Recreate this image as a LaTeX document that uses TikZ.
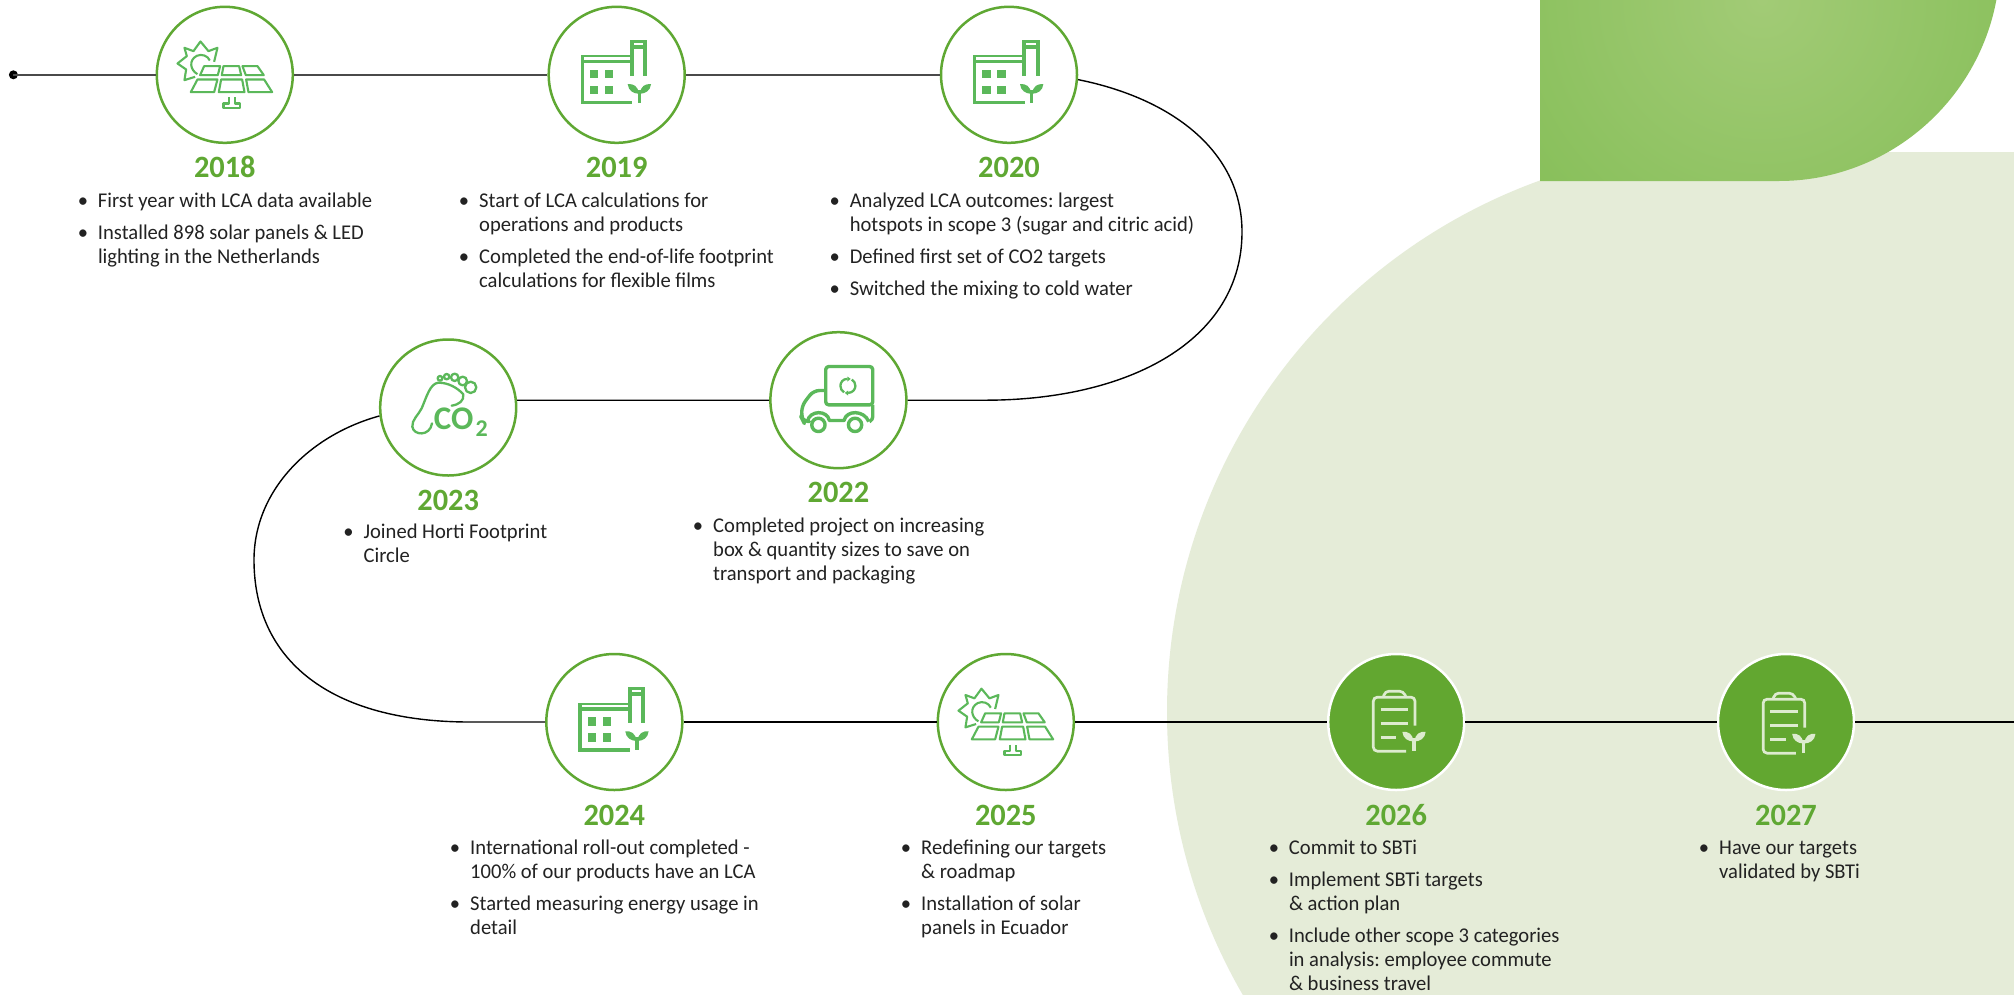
\documentclass[tikz,border=0pt]{standalone}
\usepackage{fontspec}
\setmainfont[FakeStretch=0.98]{Carlito}
\newfontfamily\iconfont{Carlito}
\frenchspacing
\definecolor{ringc}{HTML}{5FA833}
\definecolor{iconc}{HTML}{5BB85A}
\definecolor{paleicon}{HTML}{DDEBCF}
\definecolor{pale}{HTML}{E5ECD8}
\definecolor{ink}{HTML}{222222}
\definecolor{fillc}{HTML}{62A730}
\definecolor{gA}{HTML}{A2CB76}
\definecolor{gB}{HTML}{6EB43F}
\definecolor{grayline}{HTML}{4A4A4A}
\pgfdeclareradialshading{bannergrad}{\pgfpointorigin}{color(0bp)=(gA);color(50bp)=(gB)}
\newcommand{\bl}{\leavevmode\llap{\textbullet\hspace{10pt}}\rule{0pt}{16pt}}
\newcommand{\sprout}{%
  \fill (308,270) rectangle (318,308);
  \fill (278,252) .. controls (295,250) and (310,258) .. (311,281) .. controls (295,280) and (280,272) .. (278,252) -- cycle;
  \fill (348,252) .. controls (331,250) and (316,258) .. (315,281) .. controls (331,280) and (346,272) .. (348,252) -- cycle;
}
\tikzset{
  ring/.style={circle,draw=ringc,line width=2.5pt,fill=white,minimum size=136pt,inner sep=0pt},
  solidring/.style={circle,draw=white,line width=2.5pt,fill=fillc,minimum size=136pt,inner sep=0pt},
  year/.style={anchor=base,inner sep=0pt,text=ringc,font=\fontsize{31}{33}\selectfont\bfseries},
  txt/.style={anchor=north west,inner sep=0pt,align=left,text=ink,font=\fontsize{21}{24}\selectfont},
  topline/.style={draw=grayline,line width=2pt},
  pathline/.style={draw=black,line width=1.4pt},
  icon/.style={draw=iconc,line width=2.1pt,line join=round},
  solaricon/.pic={
    \begin{scope}[shift={(-254,-224)}]
      \draw[icon] (192,198) -- (240,198) -- (233,225) -- (180,225) -- cycle;
      \draw[icon] (250,198) -- (297,198) -- (303,225) -- (245,225) -- cycle;
      \draw[icon] (307,198) -- (352,198) -- (371,225) -- (317,225) -- cycle;
      \draw[icon] (172,238) -- (232,238) -- (222,276) -- (152,276) -- cycle;
      \draw[icon] (243,238) -- (306,238) -- (313,276) -- (236,276) -- cycle;
      \draw[icon] (318,238) -- (372,238) -- (396,276) -- (325,276) -- cycle;
      \draw[icon] (267,292) -- (267,310) -- (250,310) -- (250,323) -- (300,323) -- (300,310) -- (285,310) -- (285,292);
      \draw[icon] (165,230) -- (133,240) -- (138,208) -- (112,190) -- (140,168) -- (133,143) -- (160,153) -- (181,124) -- (205,153) -- (232,143) -- (222,185);
      \draw[icon] (172,222) .. controls (150,210) and (145,180) .. (170,167) .. controls (185,160) and (203,167) .. (209,181);
    \end{scope}
  },
  factoryicon/.pic={
    \begin{scope}[shift={(-245,-224)}]
      \fill[iconc] (137,166) rectangle (285,172);
      \fill[iconc] (137,180) rectangle (285,190);
      \fill[iconc] (137,166) rectangle (147,313);
      \fill[iconc] (137,303) rectangle (292,313);
      \fill[iconc] (285,120) rectangle (337,128);
      \fill[iconc] (285,135) rectangle (337,147);
      \fill[iconc] (285,120) rectangle (297,228);
      \fill[iconc] (325,120) rectangle (337,228);
      \fill[iconc] (165,210) rectangle (190,235);
      \fill[iconc] (210,210) rectangle (235,235);
      \fill[iconc] (165,258) rectangle (190,283);
      \fill[iconc] (210,258) rectangle (235,283);
      \begin{scope}[iconc]\sprout\end{scope}
    \end{scope}
  },
  footicon/.pic={
    \begin{scope}[shift={(-234.6,-217.5)}]
      \draw[icon,line width=2.3pt,line cap=round] (245,212) .. controls (268,208) and (282,198) .. (280,178) .. controls (262,158) and (235,143) .. (205,143) .. controls (180,146) and (170,185) .. (155,220) .. controls (145,240) and (125,255) .. (127,275) .. controls (130,302) and (180,305) .. (186,265);
      \draw[icon,line width=2.3pt] (302,157) circle[radius=17];
      \draw[icon,line width=2.3pt] (278,138) circle[radius=13];
      \draw[icon,line width=2.3pt] (254,127) circle[radius=11];
      \draw[icon,line width=2.3pt] (230,125) circle[radius=8];
      \draw[icon,line width=2.3pt] (210,130) circle[radius=7];
      \node[anchor=base west,inner sep=0pt,text=iconc,font=\iconfont\fontsize{33}{34}\selectfont\bfseries] (-co) at (191,283) {CO};
      \node[anchor=base west,inner sep=0pt,text=iconc,font=\iconfont\fontsize{24}{25}\selectfont\bfseries] (-two) at (316,303) {2};
    \end{scope}
  },
  truckicon/.pic={
    \begin{scope}[shift={(-235,-211)}]
      \draw[icon,line width=3.4pt,rounded corners=3pt] (197,110) rectangle (338,225);
      \draw[icon,line width=3.4pt,rounded corners=6pt] (197,182) -- (160,182) -- (125,228) -- (125,265) -- (130,275) -- (142,275);
      \draw[icon,line width=3.4pt,rounded corners=3pt] (338,225) -- (338,270) -- (328,275);
      \draw[icon,line width=3.4pt] (142,275) .. controls (148,240) and (202,240) .. (208,272) -- (252,272) .. controls (258,240) and (312,240) .. (326,275);
      \draw[icon,line width=3.4pt] (175,285) circle[radius=20];
      \draw[icon,line width=3.4pt] (285,285) circle[radius=20];
      \draw[icon,line width=2.3pt] (262,147) .. controls (248,147) and (241,158) .. (241,168) .. controls (241,176) and (245,183) .. (252,187);
      \draw[icon,line width=2.3pt] (264,189) .. controls (278,189) and (286,178) .. (286,168) .. controls (286,160) and (282,153) .. (275,149);
      \fill[iconc] (262,140) -- (262,155) -- (272,147) -- cycle;
      \fill[iconc] (264,182) -- (264,197) -- (254,189) -- cycle;
    \end{scope}
  },
  clipicon/.pic={
    \begin{scope}[shift={(-228.6,-217.5)}]
      \draw[draw=paleicon,line width=2.7pt,rounded corners=4pt] (285,228) -- (285,143) -- (160,143) -- (160,305) -- (258,305);
      \draw[draw=paleicon,line width=2.7pt,rounded corners=4pt] (190,143) -- (195,125) -- (250,125) -- (258,143);
      \draw[draw=paleicon,line width=2.7pt] (182,180) -- (265,180);
      \draw[draw=paleicon,line width=2.7pt] (182,222) -- (265,222);
      \draw[draw=paleicon,line width=2.7pt] (182,263) -- (228,263);
      \begin{scope}[shift={(-31,-5)},paleicon]\sprout\end{scope}
    \end{scope}
  }
}
\begin{document}
\begin{tikzpicture}[x=1pt,y=-1pt]
\useasboundingbox (0,0) rectangle (2014,994);
\fill[white] (0,0) rectangle (2014,994);
% pale background
\begin{scope}
  \clip (1100,152) rectangle (2014,994);
  \fill[pale] (1732,712) circle[radius=565pt];
  \fill[pale] (1732,152) rectangle (2014,994);
\end{scope}
% green banner
\begin{scope}
  \clip (1540,-50) -- (1540,181) -- (1779,181) .. controls (1901,181) and (2000,81) .. (2000,-40) -- cycle;
  \shade[shading=bannergrad] (1762,0) circle[radius=290pt];
\end{scope}
% circles
\node[ring] (c18) at (224.8,74.8) {};
\node[ring] (c19) at (616.7,74.8) {};
\node[ring] (c20) at (1009,74.8) {};
\node[ring] (c22) at (838.4,400.2) {};
\node[ring] (c23) at (448.2,407.5) {};
\node[ring] (c24) at (614.3,722) {};
\node[ring] (c25) at (1005.8,722) {};
\node[solidring] (c26) at (1396.2,722) {};
\node[solidring] (c27) at (1786,722) {};
% connectors
\coordinate (start) at (13.4,74.8);
\coordinate (rightend) at (2014,722);
\coordinate (bendA) at (1242,232);
\coordinate (bendB) at (985,400.2);
\coordinate (bendC) at (254,560);
\coordinate (bendD) at (470,722);
\fill[black] (start) circle[radius=4.5pt];
\draw[topline] (start) -- (c18.west);
\draw[topline] (c18.east) -- (c19.west);
\draw[topline] (c19.east) -- (c20.west);
\draw[pathline] (c20.-4.5) .. controls (1170,98) and (1242,150) .. (bendA) .. controls (1242,340) and (1130,400.2) .. (bendB) -- (c22.east);
\draw[pathline] (c22.west) -- (c23.6.3);
\draw[pathline] (c23.187) .. controls (310,435) and (254,490) .. (bendC) .. controls (254,660) and (330,722) .. (bendD) -- (c24.west);
\draw[pathline] (c24.east) -- (c25.west);
\draw[pathline] (c25.east) -- (c26.west);
\draw[pathline] (c26.east) -- (c27.west);
\draw[pathline] (c27.east) -- (rightend);
% icons
\pic[scale=1/3] (i18) at (c18.center) {solaricon};
\pic[scale=1/3] (i19) at (c19.center) {factoryicon};
\pic[scale=1/3] (i20) at (c20.center) {factoryicon};
\pic[scale=1/3] (i22) at (c22.center) {truckicon};
\pic[scale=1/3] (i23) at (c23.center) {footicon};
\pic[scale=1/3] (i24) at (c24.center) {factoryicon};
\pic[scale=1/3] (i25) at (c25.center) {solaricon};
\pic[scale=1/3] (i26) at (c26.center) {clipicon};
\pic[scale=1/3] (i27) at ([yshift=-2pt]c27.center) {clipicon};
% years
\node[year] (y18) at (224.8,177.7) {2018};
\node[year] (y19) at (616.7,177.7) {2019};
\node[year] (y20) at (1009,177.7) {2020};
\node[year] (y22) at (838.4,502.7) {2022};
\node[year] (y23) at (448.2,510) {2023};
\node[year] (y24) at (614.3,825) {2024};
\node[year] (y25) at (1005.8,825) {2025};
\node[year] (y26) at (1396.2,825) {2026};
\node[year] (y27) at (1786,825) {2027};
% texts
\node[txt] (t18) at (97.8,191) {\bl First year with LCA data available\\[8pt]\bl Installed 898 solar panels \& LED\\lighting in the Netherlands};
\node[txt] (t19) at (479,191) {\bl Start of LCA calculations for\\operations and products\\[8pt]\bl Completed the end-of-life footprint\\calculations for flexible films};
\node[txt] (t20) at (849.6,191) {\bl Analyzed LCA outcomes: largest\\hotspots in scope 3 (sugar and citric acid)\\[8pt]\bl Defined first set of CO2 targets\\[8pt]\bl Switched the mixing to cold water};
\node[txt] (t23) at (363.4,522.3) {\bl Joined Horti Footprint\\Circle};
\node[txt] (t22) at (713,516.3) {\bl Completed project on increasing\\box \& quantity sizes to save on\\transport and packaging};
\node[txt] (t24) at (470,838) {\bl International roll-out completed -\\100\% of our products have an LCA\\[8pt]\bl Started measuring energy usage in\\detail};
\node[txt] (t25) at (921,838) {\bl Redefining our targets\\\& roadmap\\[8pt]\bl Installation of solar\\panels in Ecuador};
\node[txt] (t26) at (1288.8,838) {\bl Commit to SBTi\\[8pt]\bl Implement SBTi targets\\\& action plan\\[8pt]\bl Include other scope 3 categories\\in analysis: employee commute\\\& business travel};
\node[txt] (t27) at (1719,838) {\bl Have our targets\\validated by SBTi};
\end{tikzpicture}
\end{document}
